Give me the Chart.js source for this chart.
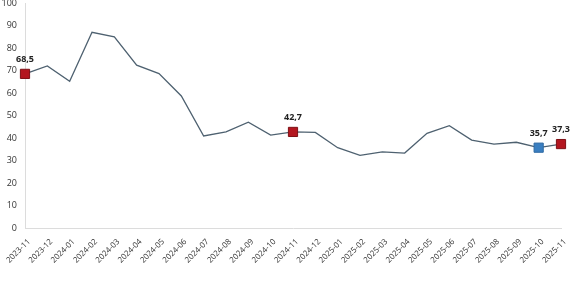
<!DOCTYPE html>
<html>
<head>
<meta charset="utf-8">
<script src="https://cdn.jsdelivr.net/npm/chart.js@4"></script>
<style>
  html, body { margin: 0; padding: 0; background: #fff; }
  #wrap { width: 570px; height: 285px; }
</style>
</head>
<body>
<div id="wrap"><canvas id="linechart"></canvas></div>
<script>
// data
const months = ['2023-11','2023-12','2024-01','2024-02','2024-03','2024-04','2024-05','2024-06',
  '2024-07','2024-08','2024-09','2024-10','2024-11','2024-12','2025-01','2025-02','2025-03',
  '2025-04','2025-05','2025-06','2025-07','2025-08','2025-09','2025-10','2025-11'];
const values = [68.5, 72.0, 65.2, 87.0, 85.0, 72.4, 68.6, 58.7, 40.9, 42.7, 47.0, 41.3, 42.7,
  42.5, 35.7, 32.3, 33.8, 33.3, 42.1, 45.5, 39.1, 37.3, 38.1, 35.7, 37.3];
const redPoints = [0, 12, 24];
const bluePoints = [23];
const yTicks = [0, 10, 20, 30, 40, 50, 60, 70, 80, 90, 100];

const red = '#b3161f';
const blue = '#3a7fc1';
const isMarked = i => redPoints.includes(i) || bluePoints.includes(i);

const radii = values.map((v, i) => isMarked(i) ? 6.5 : 0);
const fills = values.map((v, i) => bluePoints.includes(i) ? blue : red);
const borders = values.map((v, i) => bluePoints.includes(i) ? '#2f6aa3' : '#7e1015');

// value labels above the marked points
const labelPlugin = {
  id: 'valueLabels',
  afterDatasetsDraw(chart) {
    const ctx = chart.ctx;
    const meta = chart.getDatasetMeta(0);
    ctx.save();
    ctx.font = 'bold 9px "Open Sans", sans-serif';
    ctx.fillStyle = '#222';
    ctx.textAlign = 'center';
    ctx.textBaseline = 'bottom';
    meta.data.forEach((pt, i) => {
      if (!isMarked(i)) return;
      ctx.fillText(values[i].toFixed(1).replace('.', ','), pt.x, pt.y - 10);
    });
    ctx.restore();
  }
};

const ctx = document.getElementById('linechart').getContext('2d');
new Chart(ctx, {
  type: 'line',
  data: {
    labels: months,
    datasets: [{
      data: values,
      borderColor: '#4e6170',
      borderWidth: 1.3,
      tension: 0,
      pointStyle: 'rect',
      pointRadius: radii,
      pointHoverRadius: radii,
      pointBackgroundColor: fills,
      pointBorderColor: borders,
      pointBorderWidth: 1,
      clip: false
    }]
  },
  options: {
    responsive: true,
    maintainAspectRatio: false,
    animation: false,
    layout: { autoPadding: false, padding: { top: 3, right: 9, left: 0, bottom: 0 } },
    plugins: { legend: { display: false }, tooltip: { enabled: false } },
    scales: {
      x: {
        offset: false,
        grid: { display: false, drawTicks: false },
        border: { color: '#dcdcdc' },
        ticks: {
          color: '#333',
          font: { size: 8, family: '"Open Sans", sans-serif' },
          maxRotation: 45,
          minRotation: 45,
          autoSkip: false,
          labelOffset: 4,
          padding: 9
        },
        afterFit(scale) {
          scale.height = 57;
          scale.paddingLeft = 0;
          scale.paddingRight = 0;
        }
      },
      y: {
        min: 0,
        max: 100,
        afterBuildTicks(scale) { scale.ticks = yTicks.map(v => ({ value: v })); },
        grid: { display: false, drawTicks: false },
        border: { color: '#dcdcdc' },
        ticks: {
          color: '#333',
          font: { size: 9, family: '"Open Sans", sans-serif' },
          padding: 8
        },
        afterFit(scale) {
          scale.width = 25;
          scale.paddingTop = 0;
          scale.paddingBottom = 0;
        }
      }
    }
  },
  plugins: [labelPlugin]
});
</script>
</body>
</html>
